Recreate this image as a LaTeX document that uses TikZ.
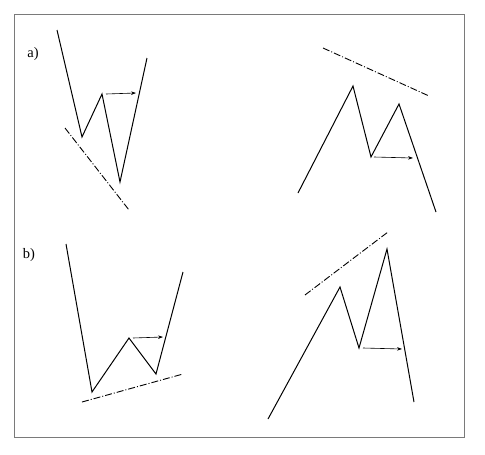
\documentclass[tikz,border=0pt]{standalone}
\usepackage{fontspec}
\setmainfont{Liberation Serif}
\usetikzlibrary{arrows.meta}
\definecolor{framegray}{HTML}{7A7A7A}

\begin{document}
\begin{tikzpicture}[x=1pt,y=-1pt,
  wave/.style={line width=1pt,line join=miter},
  trend/.style={line width=0.9pt,dash pattern=on 7pt off 2pt on 1pt off 2pt},
  breakout/.style={line width=0.6pt,-{Stealth[length=5pt,width=3.5pt]}},
  tag/.style={font=\fontsize{14.5}{17}\selectfont}]
\useasboundingbox (0,0) rectangle (485,455);
\draw[framegray,line width=1pt] (14,14) rectangle (464,437);
% a) double bottom
\node[tag] (taga) at (33,54) {a)};
\coordinate (ab0) at (57,30);
\coordinate (ab1) at (82,137);
\coordinate (ab2) at (102,94);
\coordinate (ab3) at (120,182);
\coordinate (ab4) at (147,58);
\draw[wave] (ab0) -- (ab1) -- (ab2) -- (ab3) -- (ab4);
\draw[breakout] ([xshift=4pt]ab2) -- (136,93);
\coordinate (abt0) at (65,128);
\coordinate (abt1) at (129,210);
\draw[trend] (abt0) -- (abt1);
% a) double top
\coordinate (at0) at (298,193);
\coordinate (at1) at (353,86);
\coordinate (at2) at (371,157);
\coordinate (at3) at (399,104);
\coordinate (at4) at (436,212);
\draw[wave] (at0) -- (at1) -- (at2) -- (at3) -- (at4);
\draw[breakout] ([xshift=3pt]at2) -- (413,158);
\coordinate (att0) at (323,48);
\coordinate (att1) at (429,96);
\draw[trend] (att0) -- (att1);
% b) double bottom
\node[tag] (tagb) at (29,255) {b)};
\coordinate (bb0) at (66,244);
\coordinate (bb1) at (92,392);
\coordinate (bb2) at (129,338);
\coordinate (bb3) at (156,374);
\coordinate (bb4) at (183,272);
\draw[wave] (bb0) -- (bb1) -- (bb2) -- (bb3) -- (bb4);
\draw[breakout] ([xshift=4pt]bb2) -- (163,337);
\coordinate (bbt0) at (82,402);
\coordinate (bbt1) at (183,374);
\draw[trend] (bbt0) -- (bbt1);
% b) double top
\coordinate (bt0) at (268,419);
\coordinate (bt1) at (340,287);
\coordinate (bt2) at (359,348);
\coordinate (bt3) at (387,249);
\coordinate (bt4) at (414,402);
\draw[wave] (bt0) -- (bt1) -- (bt2) -- (bt3) -- (bt4);
\draw[breakout] ([xshift=4pt]bt2) -- (402,349);
\coordinate (btt0) at (305,295);
\coordinate (btt1) at (388,232);
\draw[trend] (btt0) -- (btt1);
\end{tikzpicture}
\end{document}
